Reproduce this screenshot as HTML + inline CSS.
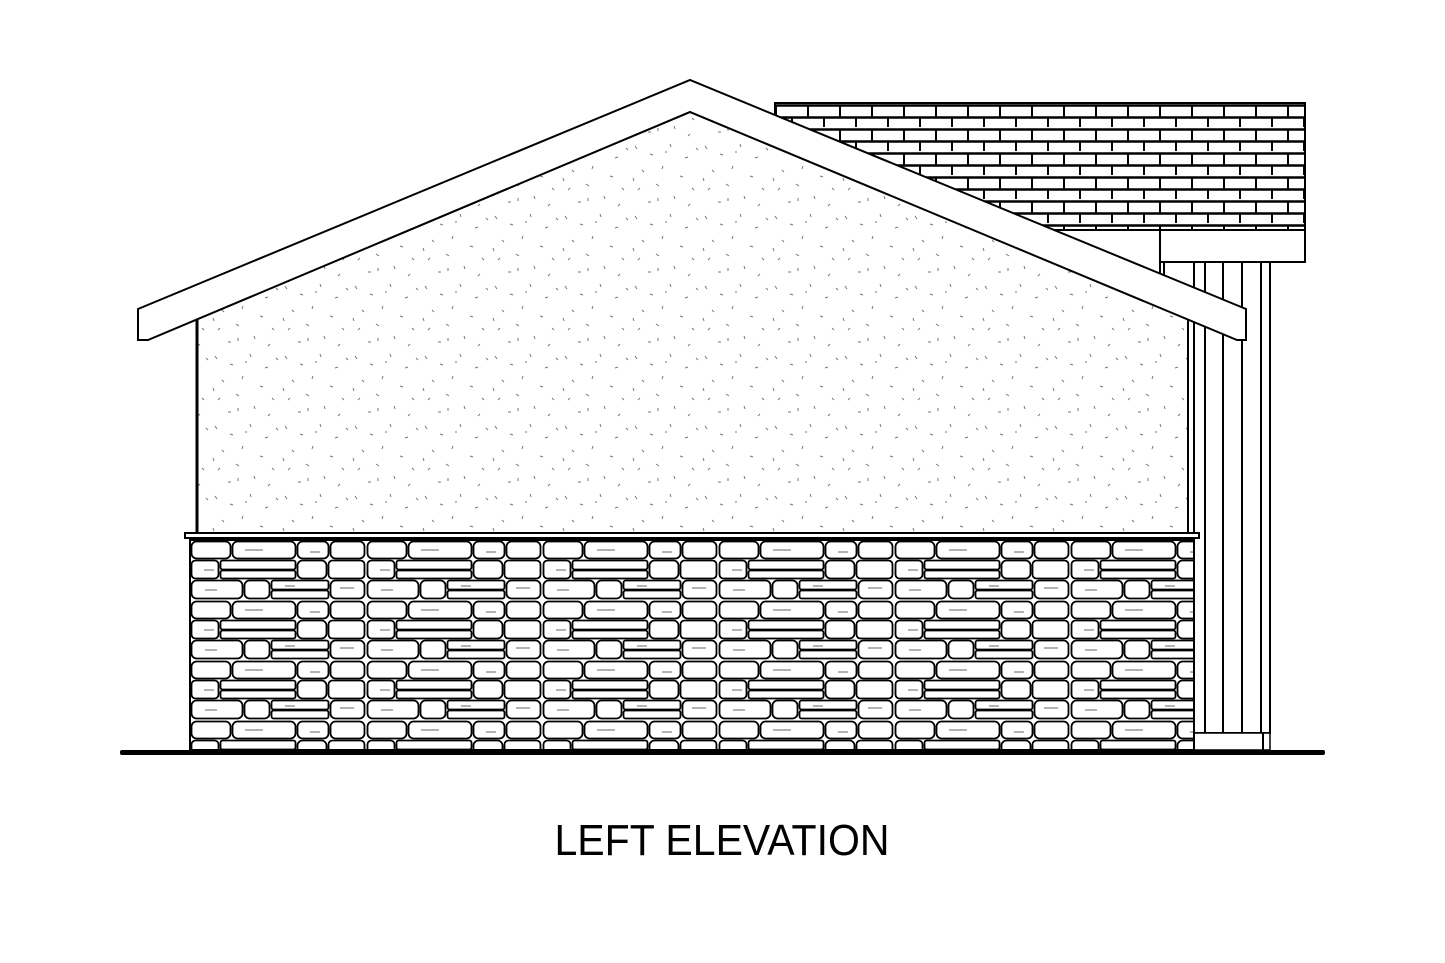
<!DOCTYPE html>
<html><head><meta charset="utf-8"><style>
html,body{margin:0;padding:0;background:#fff;}
svg{display:block}
</style></head><body>
<svg width="1445" height="963" viewBox="0 0 1445 963" xmlns="http://www.w3.org/2000/svg">
<defs>
<pattern id="sh" patternUnits="userSpaceOnUse" x="775" y="103" width="64" height="24">
<rect width="64" height="24" fill="#fff"/>
<path d="M0 2.5H64M0 14.5H64" stroke="#000" stroke-width="2.5"/>
<path d="M1 3V14M33 3V14M17 15V24M49 15V24" stroke="#000" stroke-width="2"/>
</pattern>
<pattern id="st" patternUnits="userSpaceOnUse" width="70" height="70">
<rect width="70" height="70" fill="#fff"/>
<g stroke="#777" stroke-width="1">
<path d="M5 6l2 3M20 14l3 1M40 4l1 3M55 18l3 -1M12 30l2 2M33 26l-1 3M50 36l3 1M8 50l2 -2M26 44l3 2M44 56l1 3M62 48l2 2M18 62l3 0M60 64l-2 2M35 12l2 0M3 38l1 3M66 8l2 2M28 58l0 3"/>
</g>
</pattern>
<pattern id="stone" patternUnits="userSpaceOnUse" x="190" y="540" width="176" height="60">
<rect width="176" height="60" fill="#fff"/>
<g fill="#fff" stroke="#000" stroke-width="1.8">
<rect x="1.5" y="1.5" width="39" height="17" rx="5"/>
<rect x="42.5" y="1.5" width="63" height="17" rx="5"/>
<rect x="107.5" y="1.5" width="31" height="17" rx="5"/>
<rect x="140.5" y="1.5" width="34" height="17" rx="5"/>
<rect x="1.5" y="20.5" width="27" height="18" rx="4"/>
<rect x="30.5" y="20.5" width="75" height="9" rx="2"/>
<rect x="30.5" y="30.5" width="75" height="8" rx="2"/>
<rect x="107.5" y="20.5" width="29" height="18" rx="5"/>
<rect x="138.5" y="20.5" width="36" height="18" rx="4"/>
<rect x="1.5" y="40.5" width="51" height="18" rx="5"/>
<rect x="54.5" y="40.5" width="25" height="18" rx="5"/>
<rect x="81.5" y="40.5" width="57" height="9" rx="2"/>
<rect x="81.5" y="50.5" width="57" height="8" rx="2"/>
<rect x="140.5" y="40.5" width="34" height="18" rx="5"/>
</g>
<g stroke="#666" stroke-width="1">
<path d="M55 10h18M14 30h10M120 12h10M150 48h14M15 50h12M95 46h10"/>
</g>
</pattern>
</defs>

<rect x="775" y="103" width="530" height="127" fill="url(#sh)" stroke="#000" stroke-width="2"/>
<rect x="1160" y="230" width="145" height="32" fill="#fff" stroke="#000" stroke-width="2"/>
<rect x="1160" y="262" width="110" height="471" fill="#fff" stroke="#000" stroke-width="2"/>
<path d="M1164 262V733M1194 262V733M1205 262V733M1223 262V733M1242 262V733M1261 262V733" stroke="#000" stroke-width="2"/>
<rect x="1194" y="733" width="76" height="17" fill="#fff" stroke="#000" stroke-width="1.5"/>
<path d="M1263 733V750" stroke="#000" stroke-width="2"/>

<polygon points="197,319 690,112 1188,318 1188,535 197,535" fill="url(#st)" stroke="#000" stroke-width="2"/>
<path d="M197 319V535" stroke="#000" stroke-width="3"/>

<polygon points="138,309 690,80 1246,309 1246,340 1237,340 690,112 148,340 138,340" fill="#fff" stroke="#000" stroke-width="2"/>

<rect x="190" y="540" width="1004" height="210" fill="url(#stone)" stroke="#000" stroke-width="2"/>
<rect x="185" y="533" width="1014" height="5" fill="#fff" stroke="#000" stroke-width="2"/>

<rect x="120" y="750" width="1205" height="5" rx="2" fill="#000"/>

<text x="722" y="855" text-anchor="middle" font-family="Liberation Sans, sans-serif" font-size="44" textLength="335" lengthAdjust="spacingAndGlyphs" fill="#000">LEFT ELEVATION</text>
</svg>
</body></html>
